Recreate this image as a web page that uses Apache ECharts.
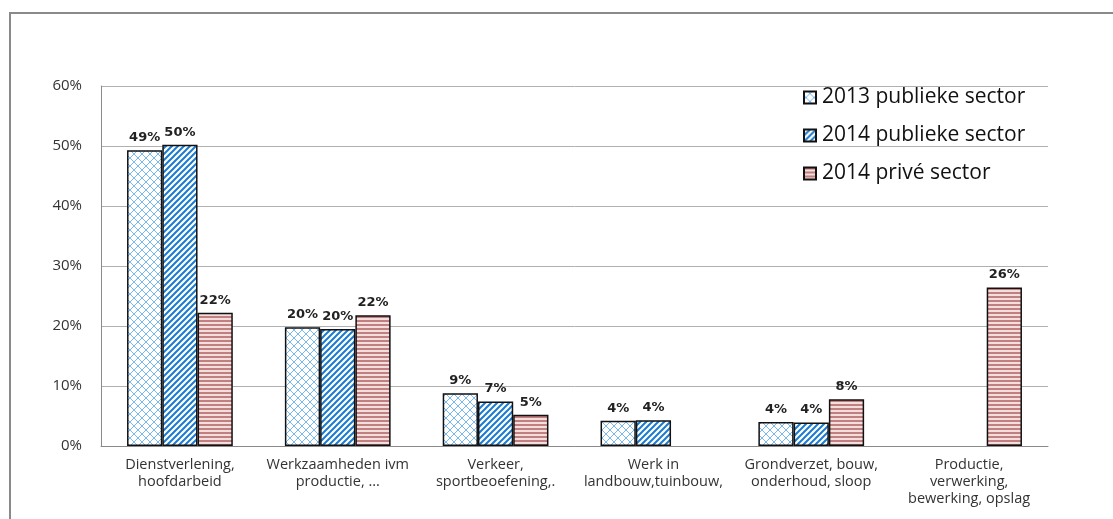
<!DOCTYPE html>
<html>
<head>
<meta charset="utf-8">
<script src="https://cdn.jsdelivr.net/npm/echarts@6/dist/echarts.min.js"></script>
<style type="text/css">
    *{
        padding: 0;
        margin: 0;
    }
    body{
        width: 1113px;
        height: 519px;
        overflow: hidden;
        background: #fff;
        position: relative;
    }
    .frame{
        position: absolute;
        left: 9px;
        top: 12px;
        width: 1200px;
        height: 600px;
        border: 2px solid #8a8a8a;
    }
    #chart1{
        position: absolute;
        left: 0;
        top: 0;
        width: 1113px;
        height: 519px;
    }
</style>
</head>
<body>
<div class="frame"></div>
<div id="chart1"></div>
<script type="text/javascript">
    // categorieën en waarden (fractie van 1)
    let categories = [
        'Dienstverlening,\nhoofdarbeid',
        'Werkzaamheden ivm\nproductie, ...',
        'Verkeer,\nsportbeoefening,.',
        'Werk in\nlandbouw,tuinbouw,',
        'Grondverzet, bouw,\nonderhoud, sloop',
        'Productie,\nverwerking,\nbewerking, opslag'
    ];
    let seriesNames = ['2013 publieke sector', '2014 publieke sector', '2014 privé sector'];
    let publiek2013 = [0.493, 0.198, 0.088, 0.042, 0.040, null];
    let publiek2014 = [0.502, 0.195, 0.074, 0.043, 0.039, null];
    let prive2014 = [0.222, 0.218, 0.052, null, 0.078, 0.264];
    let yTicks = [0, 0.1, 0.2, 0.3, 0.4, 0.5, 0.6];

    // patronen zoals in Excel
    function makePattern(kind){
        let c = document.createElement('canvas');
        let ctx;
        if(kind === 'cross'){
            c.width = 8; c.height = 8;
            ctx = c.getContext('2d');
            ctx.fillStyle = '#ffffff';
            ctx.fillRect(0,0,8,8);
            ctx.strokeStyle = '#7ab8ee';
            ctx.lineWidth = 1;
            ctx.beginPath();
            ctx.moveTo(0,8); ctx.lineTo(8,0);
            ctx.moveTo(0,4); ctx.lineTo(4,8);
            ctx.moveTo(4,0); ctx.lineTo(8,4);
            ctx.stroke();
        }else if(kind === 'diag'){
            c.width = 6; c.height = 6;
            ctx = c.getContext('2d');
            ctx.fillStyle = '#ffffff';
            ctx.fillRect(0,0,6,6);
            ctx.strokeStyle = '#1c7bd0';
            ctx.lineWidth = 2;
            ctx.beginPath();
            ctx.moveTo(-1,7); ctx.lineTo(7,-1);
            ctx.moveTo(-4,4); ctx.lineTo(4,-4);
            ctx.moveTo(2,10); ctx.lineTo(10,2);
            ctx.stroke();
        }else{
            c.width = 4; c.height = 4;
            ctx = c.getContext('2d');
            ctx.fillStyle = '#f3dede';
            ctx.fillRect(0,0,4,4);
            ctx.fillStyle = '#c27f7f';
            ctx.fillRect(0,0,4,2);
        }
        return {image: c, repeat: 'repeat'};
    }
    let fills = [makePattern('cross'), makePattern('diag'), makePattern('stripe')];
    let lists = [publiek2013, publiek2014, prive2014];

    let myChart = echarts.init(document.getElementById('chart1'));
    let series = lists.map(function(d, i){
        return {
            name: seriesNames[i],
            type: 'bar',
            data: d,
            barGap: '0%',
            barCategoryGap: '33%',
            itemStyle: {
                color: fills[i],
                borderColor: '#111',
                borderWidth: 1.5
            },
            label: {
                show: true,
                position: 'top',
                distance: 6,
                fontFamily: 'DejaVu Sans',
                fontWeight: 'bold',
                fontSize: 13,
                color: '#222',
                formatter: function(p){ return Math.round(p.value*100) + '%'; }
            }
        };
    });
    let option = {
        animation: false,
        grid: {
            left: 101,
            right: 65,
            top: 86,
            bottom: 73
        },
        legend: {
            orient: 'vertical',
            left: 803,
            top: 87,
            padding: 0,
            itemWidth: 12,
            itemHeight: 12,
            itemGap: 17,
            icon: 'rect',
            textStyle: {
                fontFamily: 'Open Sans',
                fontSize: 21,
                color: '#111',
                padding: [0,0,0,1]
            },
            data: seriesNames
        },
        xAxis: {
            type: 'category',
            data: categories,
            axisLine: {lineStyle: {color: '#8a8a8a', width: 1}},
            axisTick: {show: false},
            axisLabel: {
                fontFamily: 'Open Sans',
                fontSize: 14.5,
                color: '#333',
                lineHeight: 17,
                margin: 10,
                interval: 0
            }
        },
        yAxis: {
            type: 'value',
            min: yTicks[0],
            max: yTicks[yTicks.length-1],
            interval: 0.1,
            axisLine: {show: true, lineStyle: {color: '#8a8a8a', width: 1}},
            axisTick: {show: false},
            splitLine: {lineStyle: {color: '#b0b0b0', width: 1}},
            axisLabel: {
                fontFamily: 'Open Sans',
                fontSize: 15,
                color: '#333',
                margin: 19,
                formatter: function(v){ return Math.round(v*100) + '%'; }
            }
        },
        series: series
    };
    myChart.setOption(option);
</script>
</body>
</html>
